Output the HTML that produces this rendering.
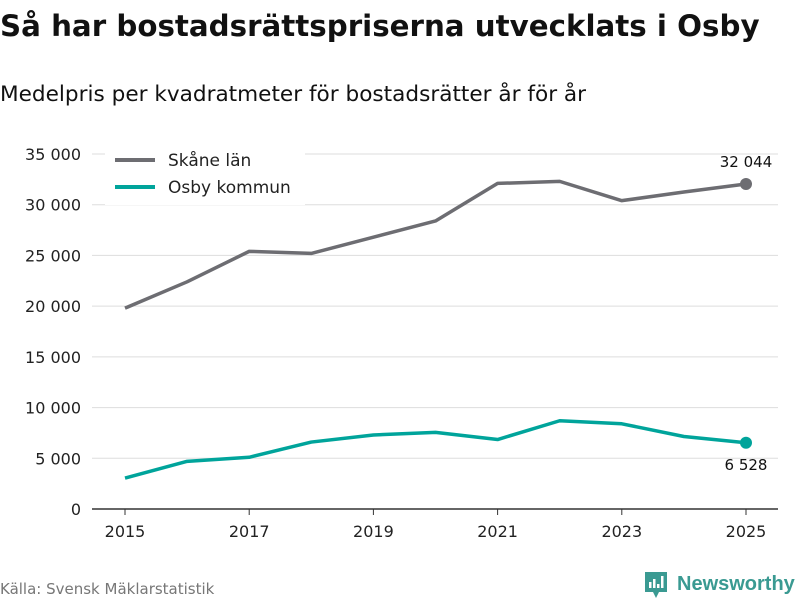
<!DOCTYPE html>
<html><head><meta charset="utf-8"><style>
body{margin:0;background:#fff;width:800px;height:600px;overflow:hidden;font-family:"DejaVu Sans","Liberation Sans",sans-serif}
</style></head><body>
<svg width="800" height="600" id="chart" font-family="DejaVu Sans, Liberation Sans, sans-serif">
<text x="0" y="36" font-size="29.3" font-weight="bold" fill="#111">Så har bostadsrättspriserna utvecklats i Osby</text>
<text x="0" y="101" font-size="21.6" fill="#111">Medelpris per kvadratmeter för bostadsrätter år för år</text>
<g id="grid"></g><g id="axes"></g><g id="lines"></g>
<g>
<rect x="105" y="150" width="200" height="55" fill="#fff"/>
<line x1="115" y1="160" x2="155" y2="160" stroke="#6d6d72" stroke-width="4"/>
<text x="168" y="166" font-size="17" fill="#222">Skåne län</text>
<line x1="115" y1="187" x2="155" y2="187" stroke="#00a49b" stroke-width="4"/>
<text x="168" y="193" font-size="17" fill="#222">Osby kommun</text>
</g>
<text x="0" y="594" font-size="15" fill="#777">Källa: Svensk Mäklarstatistik</text>
<g>
<path d="M645 572 h22 v20 h-8 l-3 6 l-3 -6 h-8 z" fill="#3a9a92"/>
<rect x="649" y="582" width="2.5" height="6" fill="#fff"/><rect x="653" y="579" width="2.5" height="9" fill="#fff"/><rect x="657" y="584" width="2.5" height="4" fill="#fff"/><rect x="661" y="576" width="2.5" height="12" fill="#fff"/>
<text x="677" y="590" font-size="20" font-weight="bold" fill="#3a9a92" font-family="Liberation Sans, sans-serif">Newsworthy</text>
</g>
</svg>
<script>
const years=[2015,2016,2017,2018,2019,2020,2021,2022,2023,2024,2025];
const skane=[19800,22400,25400,25200,26800,28400,32100,32300,30400,31250,32044];
const osby=[3050,4700,5100,6600,7300,7550,6850,8700,8400,7150,6528];
const yTicks=[0,5000,10000,15000,20000,25000,30000,35000];
const xTicks=[2015,2017,2019,2021,2023,2025];
const NS='http://www.w3.org/2000/svg';
const x=v=>125+(v-2015)*62.1;
const y=v=>509-v/35000*355;
const fmt=v=>v.toLocaleString('en-US').replace(/,/g,' ');
function mk(tag,attrs,parent){const e=document.createElementNS(NS,tag);for(const k in attrs)e.setAttribute(k,attrs[k]);parent.appendChild(e);return e;}
const grid=document.getElementById('grid'),axes=document.getElementById('axes'),lines=document.getElementById('lines');
yTicks.forEach(t=>{
 const l=mk('line',{x1:92,x2:778,y1:y(t),y2:y(t),stroke:t===0?'#333':'#ddd','stroke-width':t===0?1.5:1},grid);
 
 
 const tx=mk('text',{x:81,y:y(t)+6,'font-size':16,fill:'#222','text-anchor':'end'},axes);
 tx.textContent=fmt(t);
 
 
});
xTicks.forEach(t=>{
 mk('line',{x1:x(t),x2:x(t),y1:509,y2:515,stroke:'#333'},axes);
 const tx=mk('text',{x:x(t),y:537,'font-size':16,fill:'#222','text-anchor':'middle'},axes);
 tx.textContent=t;
 
 
});
function series(vals,color,name,labelDy){
 const p=mk('polyline',{points:vals.map((v,i)=>x(years[i])+','+y(v)).join(' '),fill:'none',stroke:color,'stroke-width':3.5,'stroke-linejoin':'round'},lines);
 
 
 const last=vals.length-1;
 const c=mk('circle',{cx:x(years[last]),cy:y(vals[last]),r:6,fill:color},lines);
 
 
 const t=mk('text',{x:x(years[last]),y:y(vals[last])+labelDy,'font-size':15,fill:'#111','text-anchor':'middle'},lines);
 t.textContent=fmt(vals[last]);
 
 
}
series(skane,'#6d6d72','skane',-17);
series(osby,'#00a49b','osby',27);
</script>
</body></html>
